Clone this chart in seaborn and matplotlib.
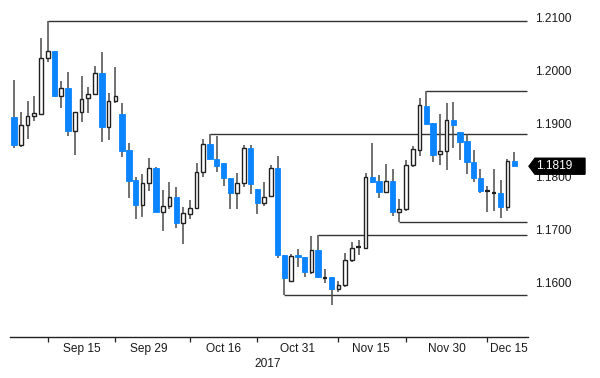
import matplotlib
matplotlib.use("Agg")
import matplotlib.pyplot as plt
import matplotlib.transforms as mtransforms
from matplotlib.patches import Polygon
import numpy as np
import pandas as pd
import seaborn as sns

# ---- data (EURUSD daily) ----
opens = [1.1912, 1.1859, 1.1897, 1.1914, 1.1917, 1.2023, 1.2036, 1.1951, 1.1967, 1.1886,
         1.1921, 1.1948, 1.1955, 1.1995, 1.1893, 1.1942, 1.1917, 1.1850, 1.1793, 1.1746,
         1.1787, 1.1816, 1.1733, 1.1744, 1.1761, 1.1712, 1.1729, 1.1740, 1.1808, 1.1861,
         1.1833, 1.1825, 1.1797, 1.1769, 1.1787, 1.1853, 1.1776, 1.1750, 1.1763, 1.1816,
         1.1651, 1.1603, 1.1651, 1.1648, 1.1620, 1.1661, 1.1610, 1.1610, 1.1588, 1.1595,
         1.1642, 1.1665, 1.1665, 1.1799, 1.1791, 1.1771, 1.1791, 1.1733, 1.1738, 1.1821,
         1.1850, 1.1933, 1.1901, 1.1842, 1.1848, 1.1906, 1.1884, 1.1867, 1.1827, 1.1797,
         1.1774, 1.1769, 1.1769, 1.1742, 1.1829]
highs = [1.1982, 1.1921, 1.1942, 1.1951, 1.2061, 1.2093, 1.2036, 1.1980, 1.1997, 1.1921,
         1.1989, 1.1968, 1.2008, 1.2035, 1.1957, 1.2006, 1.1938, 1.1863, 1.1799, 1.1804,
         1.1835, 1.1818, 1.1774, 1.1789, 1.1780, 1.1742, 1.1755, 1.1825, 1.1870, 1.1880,
         1.1876, 1.1825, 1.1797, 1.1806, 1.1859, 1.1859, 1.1776, 1.1789, 1.1821, 1.1838,
         1.1651, 1.1653, 1.1663, 1.1648, 1.1687, 1.1689, 1.1625, 1.1610, 1.1603, 1.1655,
         1.1676, 1.1680, 1.1806, 1.1863, 1.1802, 1.1823, 1.1814, 1.1757, 1.1831, 1.1857,
         1.1948, 1.1961, 1.1901, 1.1917, 1.1938, 1.1940, 1.1884, 1.1880, 1.1850, 1.1814,
         1.1782, 1.1814, 1.1793, 1.1833, 1.1846]
lows = [1.1853, 1.1855, 1.1870, 1.1904, 1.1916, 1.2016, 1.1949, 1.1929, 1.1876, 1.1840,
        1.1902, 1.1919, 1.1953, 1.1865, 1.1868, 1.1938, 1.1836, 1.1759, 1.1719, 1.1723,
        1.1772, 1.1733, 1.1697, 1.1738, 1.1702, 1.1672, 1.1719, 1.1738, 1.1799, 1.1833,
        1.1808, 1.1782, 1.1738, 1.1738, 1.1780, 1.1767, 1.1729, 1.1744, 1.1761, 1.1646,
        1.1576, 1.1601, 1.1629, 1.1610, 1.1616, 1.1608, 1.1599, 1.1558, 1.1582, 1.1591,
        1.1638, 1.1651, 1.1665, 1.1787, 1.1759, 1.1769, 1.1725, 1.1714, 1.1735, 1.1818,
        1.1838, 1.1899, 1.1827, 1.1821, 1.1812, 1.1853, 1.1831, 1.1804, 1.1789, 1.1769,
        1.1733, 1.1735, 1.1721, 1.1735, 1.1819]
closes = [1.1859, 1.1897, 1.1914, 1.1919, 1.2023, 1.2036, 1.1951, 1.1967, 1.1886, 1.1921,
          1.1946, 1.1955, 1.1995, 1.1893, 1.1942, 1.1951, 1.1848, 1.1791, 1.1746, 1.1787,
          1.1816, 1.1733, 1.1744, 1.1761, 1.1712, 1.1731, 1.1740, 1.1808, 1.1861, 1.1833,
          1.1819, 1.1797, 1.1769, 1.1787, 1.1853, 1.1786, 1.1750, 1.1761, 1.1816, 1.1651,
          1.1608, 1.1650, 1.1648, 1.1620, 1.1661, 1.1610, 1.1608, 1.1588, 1.1595, 1.1642,
          1.1665, 1.1667, 1.1799, 1.1789, 1.1771, 1.1791, 1.1733, 1.1738, 1.1821, 1.1852,
          1.1935, 1.1899, 1.1840, 1.1848, 1.1906, 1.1897, 1.1865, 1.1827, 1.1797, 1.1772,
          1.1773, 1.1768, 1.1742, 1.1829, 1.1819]

# support / resistance lines: starting candle and level
level_start = [5, 29, 61, 57, 45, 40]
level_value = [1.2093, 1.1880, 1.1961, 1.1714, 1.1689, 1.1576]

y_ticks = [1.16, 1.17, 1.18, 1.19, 1.20, 1.21]
x_tick_pos = [5, 15, 26, 36, 48, 58, 70]
x_label_pos = [10, 20, 31, 42, 52.8, 64, 73.2]
x_labels = ["Sep 15", "Sep 29", "Oct 16", "Oct 31", "Nov 15", "Nov 30", "Dec 15"]
year_label = "2017"
last_price = 1.1819

# ---- style ----
sns.set_theme(style="white")
FONT = ["Liberation Sans", "DejaVu Sans"]
plt.rcParams["font.family"] = FONT
FS = 8.6

BLUE = "#0A84FF"
TXT = "#1a1a1a"

df = pd.DataFrame({"o": opens, "h": highs, "l": lows, "c": closes})
df["x"] = np.arange(len(df))

fig = plt.figure(figsize=(6.0, 3.78), dpi=100)
W, H = 600, 378
ax_left, ax_right, ax_top, ax_bottom = 9.6, 528, 0, 337
ax = fig.add_axes([ax_left / W, 1 - ax_bottom / H, (ax_right - ax_left) / W, (ax_bottom - ax_top) / H])
ax.set_facecolor("white")

# wicks
ax.vlines(df["x"], df["l"], df["h"], color="#4a4a4a", lw=1.1, zorder=2)

doji = (df["c"] - df["o"]).abs() < 0.00025
up = (df["c"] >= df["o"]) & ~doji
down = (df["c"] < df["o"]) & ~doji

d_up = df[up]
ax.bar(d_up["x"], d_up["c"] - d_up["o"], bottom=d_up["o"], width=0.55,
       color="white", edgecolor="#202020", linewidth=1.0, zorder=3)
d_dn = df[down]
ax.bar(d_dn["x"], d_dn["o"] - d_dn["c"], bottom=d_dn["c"], width=0.8,
       color=BLUE, edgecolor=BLUE, linewidth=0.6, zorder=3)
d_dj = df[doji]
ax.hlines(d_dj["c"], d_dj["x"] - 0.35, d_dj["x"] + 0.35, color="#202020", lw=1.6, zorder=3)

# horizontal levels
x_end = 75.9
for s, v in zip(level_start, level_value):
    ax.plot([s, x_end], [v, v], color="#333333", lw=1.0, zorder=1, solid_capstyle="butt")

# axes limits
px_per_unit = 6.76
x0 = -0.65
ax.set_xlim(x0, x0 + (ax_right - ax_left) / px_per_unit)
v_top = 1.21 + 17.3 / 5300
v_bot = 1.21 - (337 - 17.3) / 5300
ax.set_ylim(v_bot, v_top)

for sp in ["top", "left", "right"]:
    ax.spines[sp].set_visible(False)
ax.spines["bottom"].set_color("#222222")
ax.spines["bottom"].set_linewidth(1.0)

ax.yaxis.tick_right()
ax.set_yticks(y_ticks)
ax.set_yticklabels([f"{v:.4f}" for v in y_ticks])
ax.tick_params(axis="y", length=0, pad=5, labelsize=FS, labelcolor=TXT)

ax.set_xticks(x_tick_pos)
ax.set_xticklabels([])
ax.tick_params(axis="x", which="major", bottom=True, direction="out", length=3.5, width=0.9,
               color="#222222")
ax.set_xticks(x_label_pos, minor=True)
ax.set_xticklabels(x_labels, minor=True)
ax.tick_params(axis="x", which="minor", bottom=True, length=0, pad=4, labelsize=FS,
               labelcolor=TXT)
ax.grid(False)

fig.text(268 / W, 1 - 364 / H, year_label, ha="center", va="center", fontsize=FS, color=TXT,
         family=FONT)

# last price badge
trans = mtransforms.blended_transform_factory(fig.transFigure, ax.transData)
hh = 8 / 5300
poly = Polygon([(529 / W, last_price), (535 / W, last_price + hh), (585 / W, last_price + hh),
                (585 / W, last_price - hh), (535 / W, last_price - hh)],
               closed=True, transform=trans, facecolor="black", edgecolor="black",
               clip_on=False, zorder=10)
fig.add_artist(poly)
fig.text(536 / W, last_price, f"{last_price:.4f}", transform=trans, ha="left", va="center",
         fontsize=FS, color="white", zorder=11, family=FONT)

fig.savefig("out.png", dpi=100, facecolor="white")
